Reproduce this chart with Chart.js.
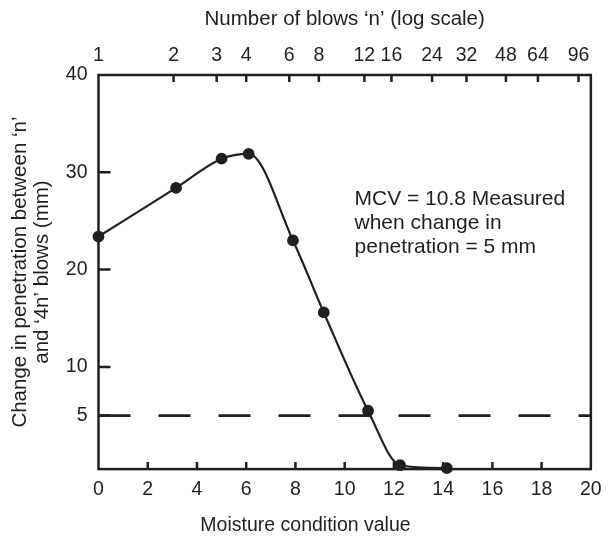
<!DOCTYPE html>
<html>
<head>
<meta charset="utf-8">
<script src="https://cdn.jsdelivr.net/npm/chart.js@4"></script>
<style>
  body { margin: 0; background: #fff; }
</style>
</head>
<body>
<canvas id="mcvChart" width="611" height="539"></canvas>
<script>
// Moisture condition value test results
const mcv = [0, 3.15, 5.0, 6.1, 7.9, 9.15, 10.95, 12.25, 14.15];
const penetration = [23.4, 28.4, 31.4, 31.9, 23.0, 15.6, 5.5, -0.1, -0.4];

// tick labels
const yTicks = [5, 10, 20, 30, 40];
const blowLabels = ['1', '2', '3', '4', '6', '8', '12', '16', '24', '32', '48', '64', '96'];
const blowPositions = [0, 3.05, 4.8, 6.0, 7.75, 8.95, 10.8, 11.9, 13.55, 14.95, 16.55, 17.85, 19.5];

// 5 mm criterion line
const limitX = [0, 20];
const limitY = [5, 5];

const annotationLines = ['MCV = 10.8 Measured', 'when change in', 'penetration = 5 mm'];

const ink = '#231f20';
const family = '"Liberation Sans", Arial, sans-serif';
const tickSize = 19.5;
const titleSize = 20.5;

// frame, inward tick marks and the note
const framePlugin = {
    id: 'framePlugin',
    afterDatasetsDraw(chart) {
        const {ctx, chartArea: a, scales} = chart;
        ctx.save();
        ctx.strokeStyle = ink;
        ctx.lineWidth = 2.5;
        ctx.strokeRect(a.left, a.top, a.right - a.left, a.bottom - a.top);

        ctx.beginPath();
        scales.x.ticks.forEach(t => {
            if (t.value <= 0 || t.value >= 20) return;
            const px = scales.x.getPixelForValue(t.value);
            ctx.moveTo(px, a.bottom);
            ctx.lineTo(px, a.bottom - 7);
        });
        scales.x2.ticks.forEach(t => {
            if (t.value <= 0) return;
            const px = scales.x2.getPixelForValue(t.value);
            ctx.moveTo(px, a.top);
            ctx.lineTo(px, a.top + 7);
        });
        scales.y.ticks.forEach(t => {
            if (t.value >= 40) return;
            const py = scales.y.getPixelForValue(t.value);
            ctx.moveTo(a.left, py);
            ctx.lineTo(a.left + 12, py);
        });
        ctx.stroke();

        ctx.fillStyle = ink;
        ctx.font = '21px ' + family;
        ctx.textBaseline = 'middle';
        ctx.textAlign = 'left';
        const tx = scales.x.getPixelForValue(10.4);
        const ty = scales.y.getPixelForValue(27.25);
        annotationLines.forEach((line, i) => ctx.fillText(line, tx, ty + i * 24));
        ctx.restore();
    }
};

const ctx = document.getElementById('mcvChart').getContext('2d');
new Chart(ctx, {
    type: 'line',
    data: {
        datasets: [{
            data: mcv.map((x, i) => ({x: x, y: penetration[i]})),
            borderColor: ink,
            backgroundColor: ink,
            borderWidth: 2.2,
            pointRadius: 4.8,
            pointHoverRadius: 4.8,
            cubicInterpolationMode: 'monotone',
            tension: 0.4,
            clip: false
        }, {
            data: limitX.map((x, i) => ({x: x, y: limitY[i]})),
            borderColor: ink,
            borderWidth: 2.8,
            borderDash: [32, 28],
            pointRadius: 0
        }]
    },
    options: {
        responsive: false,
        animation: false,
        layout: { padding: 0 },
        plugins: {
            legend: { display: false },
            tooltip: { enabled: false },
            title: {
                display: true,
                position: 'bottom',
                text: 'Moisture condition value',
                color: ink,
                font: { family: family, size: 19.5, weight: 'normal', lineHeight: 1.2 },
                padding: { top: 0, bottom: 1.5 }
            }
        },
        scales: {
            x: {
                type: 'linear',
                position: 'bottom',
                min: 0,
                max: 20,
                grid: { display: false, drawTicks: false },
                border: { display: false },
                ticks: { stepSize: 2, color: ink, font: { family: family, size: tickSize }, padding: 9.3, maxRotation: 0 },
                afterFit(scale) { scale.height = 45; }
            },
            x2: {
                type: 'linear',
                position: 'top',
                min: 0,
                max: 20,
                grid: { display: false, drawTicks: false },
                border: { display: false },
                afterBuildTicks(scale) {
                    scale.ticks = blowPositions.map(v => ({value: v}));
                },
                ticks: {
                    autoSkip: false,
                    maxRotation: 0,
                    color: ink,
                    font: { family: family, size: tickSize },
                    padding: 7.3,
                    callback: (value, index) => blowLabels[index]
                },
                title: {
                    display: true,
                    text: 'Number of blows \u2018n\u2019 (log scale)',
                    color: ink,
                    font: { family: family, size: titleSize },
                    padding: { top: 7, bottom: 0 }
                },
                afterFit(scale) { scale.height = 75; }
            },
            y: {
                type: 'linear',
                min: -0.5,
                max: 40,
                grid: { display: false, drawTicks: false },
                border: { display: false },
                afterBuildTicks(scale) {
                    scale.ticks = yTicks.map(v => ({value: v}));
                },
                ticks: { color: ink, font: { family: family, size: tickSize }, padding: 11 },
                title: {
                    display: true,
                    text: ['Change in penetration between \u2018n\u2019', 'and \u20184n\u2019 blows (mm)'],
                    color: ink,
                    font: { family: family, size: titleSize, lineHeight: 1.05 },
                    padding: { top: 10, bottom: 0 }
                },
                afterFit(scale) { scale.width = 98.5; }
            }
        }
    },
    plugins: [framePlugin]
});
</script>
</body>
</html>
